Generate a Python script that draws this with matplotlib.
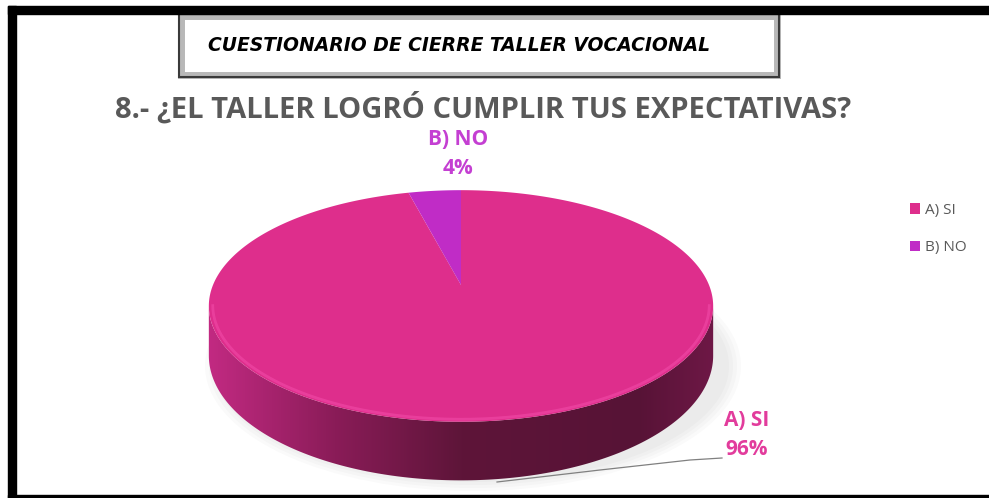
import numpy as np
import matplotlib.pyplot as plt
from matplotlib.patches import Rectangle, Polygon, Ellipse
from matplotlib.path import Path
from matplotlib.transforms import Transform
from matplotlib.colors import LinearSegmentedColormap

labels = ['A) SI', 'B) NO']
values = [96, 4]
colors = ['#DE2E8C', '#C02CC6']
label_colors = ['#E23C9C', '#C43FD2']
box_title = 'CUESTIONARIO DE CIERRE TALLER VOCACIONAL'
chart_title = '8.- ¿EL TALLER LOGRÓ CUMPLIR TUS EXPECTATIVAS?'


class Tilt(Transform):
    """unit disk -> tilted 3d disk in pixel coords"""
    input_dims = output_dims = 2
    is_separable = False

    def __init__(self, cx, cy, rx, ry, k, drop=0.0):
        super().__init__()
        self._p = (cx, cy, rx, ry, k, drop)

    def transform_non_affine(self, values):
        cx, cy, rx, ry, k, drop = self._p
        values = np.asarray(values, float)
        u, v = values[:, 0], values[:, 1]
        w = 1 + k * v
        return np.column_stack([cx + rx * u / w, cy - ry * v / w + drop / w])

    def transform_path_non_affine(self, path):
        # sample curves densely before bending them
        pts = [seg(np.linspace(0, 1, 24)) for seg, code in path.iter_bezier()]
        return Path(self.transform_non_affine(np.concatenate(pts)))


W, H = 989, 498
fig = plt.figure(figsize=(W / 100, H / 100), dpi=100)
ax = fig.add_axes([0, 0, 1, 1])
ax.set_xlim(0, W)
ax.set_ylim(H, 0)
ax.axis('off')

# outer black frame
ax.add_patch(Rectangle((8, 6), 8, H, color='black', zorder=10))
ax.add_patch(Rectangle((8, 6), W, 8, color='black', zorder=10))
ax.add_patch(Rectangle((8, 495), W, 5, color='black', zorder=10))

# title box
ax.add_patch(Rectangle((181, 16), 596, 59, facecolor='white', edgecolor='#B8B8B8', lw=5, zorder=2))
ax.add_patch(Rectangle((179, 14), 600, 63, facecolor='none', edgecolor='#3A3A3A', lw=1.5, zorder=3))
ax.text(459, 45, box_title, ha='center', va='center', fontsize=13.5,
        fontstyle='italic', fontweight='bold', family='DejaVu Sans', color='black', zorder=4)

ax.text(483, 108, chart_title, ha='center', va='center', fontsize=21,
        fontweight='bold', family='Open Sans', color='#595959')

# pie geometry (pixels)
cx, cy, rx, ry, k, D = 461, 285, 248, 112, 0.181, 48
top_t = Tilt(cx, cy, rx, ry, k)
bot_t = Tilt(cx, cy, rx, ry, k, D)

# soft shadow
for i in range(4):
    ax.add_patch(Ellipse((cx + 12, 366), 2 * (rx + 8 + 4 * i), 2 * (116 + 3 * i),
                         facecolor='#808080', edgecolor='none', alpha=0.04, zorder=0))

# side of the cylinder
a = np.arcsin(k)
t = np.linspace(np.pi + a, 2 * np.pi - a, 200)
ring = np.column_stack([np.cos(t), np.sin(t)])
top_rim = top_t.transform(ring)
bot_rim = bot_t.transform(ring)[::-1]
side = Polygon(np.r_[top_rim, bot_rim], closed=True, facecolor='none', edgecolor='none', zorder=1)
ax.add_patch(side)
grad = np.linspace(0, 1, 256)
cmap = LinearSegmentedColormap.from_list('side', [(0, '#C22A82'), (0.25, '#8A1C58'),
                                                   (0.5, '#5E1539'), (0.85, '#571336'),
                                                   (1, '#6E1846')])
im = ax.imshow(grad[None, :], cmap=cmap, extent=(cx - 1.02 * rx, cx + 1.02 * rx, 485, 190),
               aspect='auto', zorder=1)
im.set_clip_path(side)

# top face
wedges, _ = ax.pie(values, colors=colors, startangle=90, counterclock=False,
                   wedgeprops=dict(linewidth=0))
for w in wedges:
    w.set_transform(top_t + ax.transData)
    w.set_zorder(2)
ax.set_xlim(0, W)
ax.set_ylim(H, 0)
ax.set_aspect('auto')

# rim highlight
hl = top_t.transform(np.column_stack([0.985 * np.cos(t), 0.985 * np.sin(t)]))
ax.plot(hl[:, 0], hl[:, 1], color='#F24AA8', lw=2, alpha=0.6, zorder=3)

# data labels
ax.text(458, 154, f'{labels[1]}\n{values[1]}%', ha='center', va='center', fontsize=15,
        fontweight='bold', family='Open Sans', color=label_colors[1], linespacing=1.55)
ax.text(747, 435, f'{labels[0]}\n{values[0]}%', ha='center', va='center', fontsize=15,
        fontweight='bold', family='Open Sans', color=label_colors[0], linespacing=1.55)
ax.plot([497, 600, 690, 722], [482, 470, 460, 458], color='#808080', lw=0.9, zorder=4)

leg = ax.legend(wedges, labels, loc='center left', bbox_to_anchor=(896 / W, 1 - 229 / H),
                frameon=False, handlelength=0.7, handleheight=0.7, handletextpad=0.3,
                labelspacing=1.5, prop={'family': 'Open Sans', 'size': 11})
for txt in leg.get_texts():
    txt.set_color('#595959')

fig.savefig('out.png', dpi=100)
